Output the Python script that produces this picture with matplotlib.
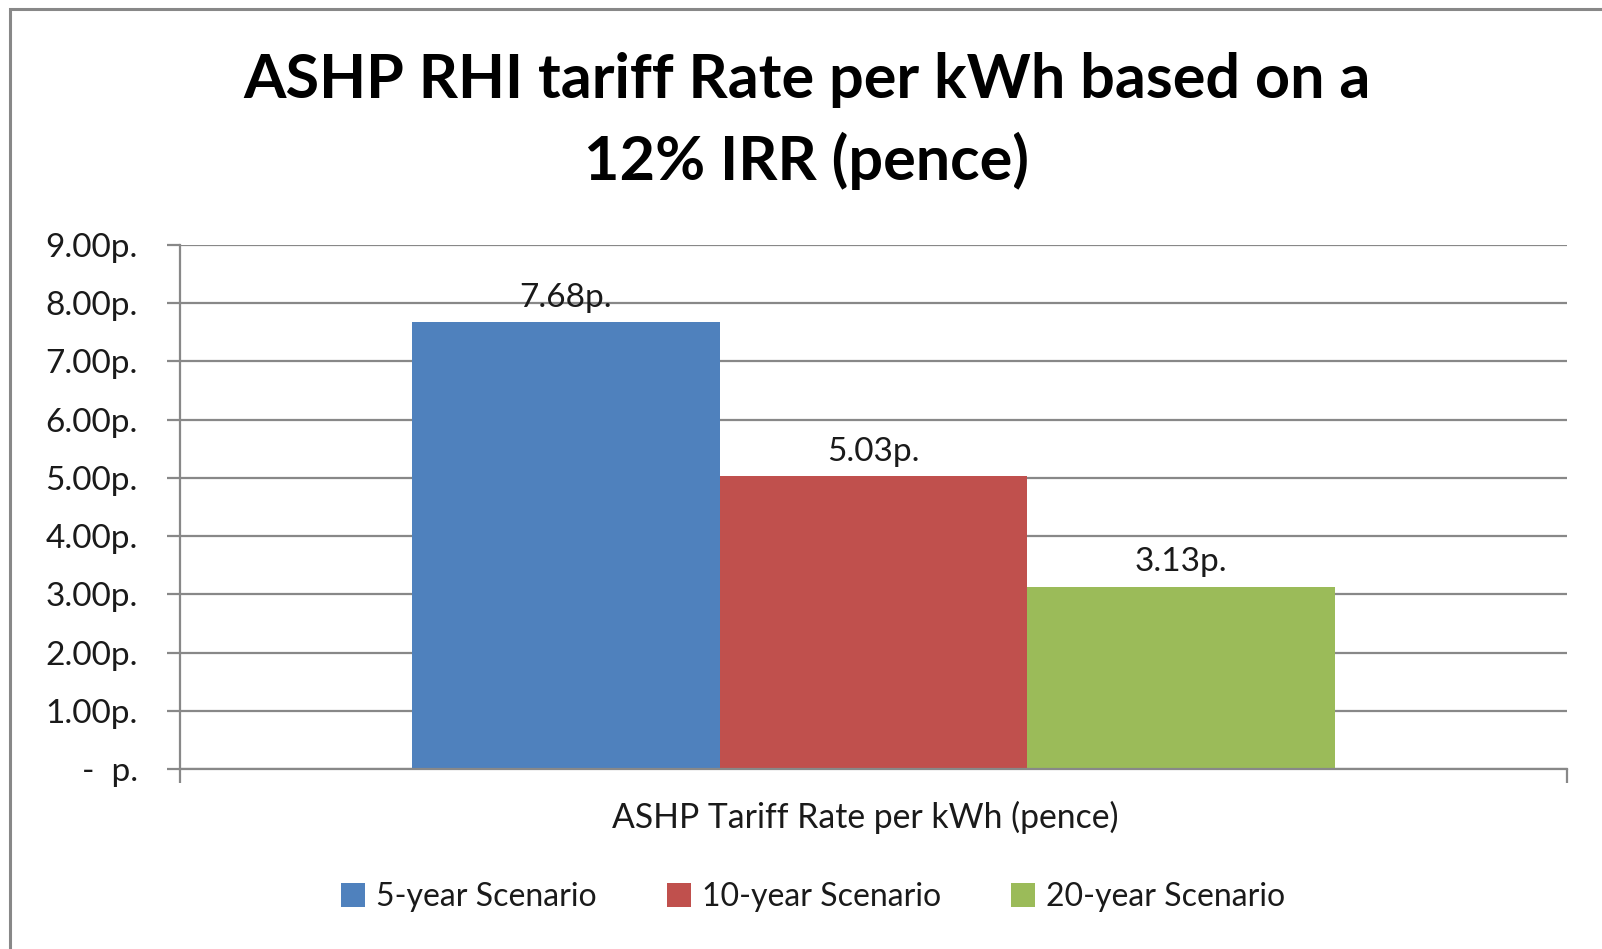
import matplotlib.pyplot as plt
from matplotlib.patches import Patch, Rectangle

series = ["5-year Scenario", "10-year Scenario", "20-year Scenario"]
values = [7.68, 5.03, 3.13]
colors = ["#4F81BD", "#C0504D", "#9BBB59"]
category = "ASHP Tariff Rate per kWh (pence)"
yticks = [0, 1, 2, 3, 4, 5, 6, 7, 8, 9]
ylabels = ["-  p."] + ["%.2fp." % v for v in yticks[1:]]

plt.rcParams["font.family"] = ["Lato", "DejaVu Sans"]
grid_c = "#888888"

fig = plt.figure(figsize=(16.02, 9.49), dpi=100)
ax = fig.add_axes([0.1124, 0.1897, 0.9782 - 0.1124, 0.7418 - 0.1897])

w = 0.2218
for i, (name, v, c) in enumerate(zip(series, values, colors)):
    x = (i - 1) * w
    ax.bar(x, v, width=w, color=c, zorder=2)
    ax.annotate("%.2fp." % v, (x, v), xytext=(0, 11), textcoords="offset points",
                ha="center", va="baseline", fontsize=24, color="#1a1a1a", zorder=3)

ax.set_xlim(-0.5, 0.5)
ax.set_ylim(0, 9)
ax.set_yticks(yticks)
ax.set_yticklabels(ylabels)
ax.yaxis.grid(True, color=grid_c, lw=1.6, zorder=0)
ax.set_xticks([-0.5, 0.5])
ax.set_xticklabels(["", ""])
ax.tick_params(axis="y", length=9.5, width=1.6, color=grid_c, pad=21, labelsize=24, labelcolor="#1a1a1a")
ax.tick_params(axis="x", length=10, width=1.6, color=grid_c, direction="out")
for s in ["top", "right"]:
    ax.spines[s].set_visible(False)
for s in ["left", "bottom"]:
    ax.spines[s].set_color(grid_c)
    ax.spines[s].set_linewidth(1.6)

fig.text(865 / 1602, 1 - 817 / 949, category, ha="center", va="center", fontsize=24.3, color="#1a1a1a")

fig.text(0.5037, 1 - 121 / 949, "ASHP RHI tariff Rate per kWh based on a\n12% IRR (pence)",
         ha="center", va="center", fontsize=44, fontweight="bold", linespacing=1.48)

handles = [Patch(facecolor=c, label=n) for n, c in zip(series, colors)]
fig.legend(handles=handles, loc="center", bbox_to_anchor=(813 / 1602, 1 - 897 / 949), ncol=3,
           frameon=False, fontsize=23, handlelength=0.75, handleheight=0.75,
           handletextpad=0.35, columnspacing=2.2, labelcolor="#1a1a1a")

fig.add_artist(Rectangle((10 / 1602, -0.2), 1.2, 1.2 - 9 / 949, transform=fig.transFigure,
                         fill=False, edgecolor="#888888", lw=2.2))

fig.savefig("out.png", dpi=100, facecolor="white")
